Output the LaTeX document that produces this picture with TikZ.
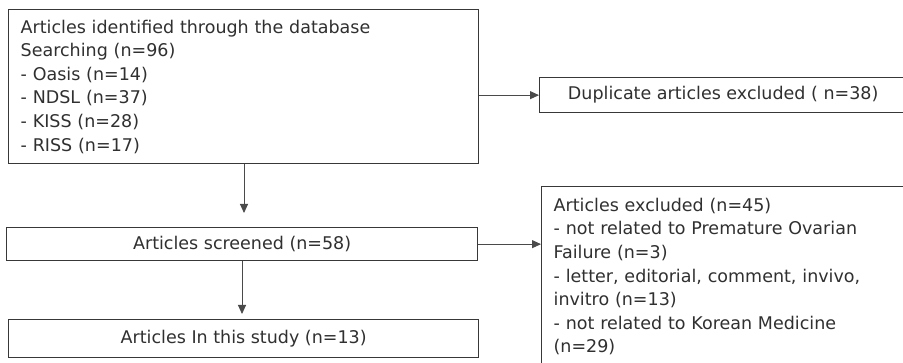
\documentclass[tikz,border=0pt]{standalone}
\usepackage{fontspec}
\setmainfont{DejaVu Sans}
\usetikzlibrary{arrows.meta}
\definecolor{boxc}{HTML}{383838}
\definecolor{txtc}{HTML}{303030}
\definecolor{arrc}{HTML}{4A4A4A}
\begin{document}
\begin{tikzpicture}[x=1pt,y=-1pt,
  box/.style={draw=boxc, line width=1.3pt, rectangle, inner sep=0pt, anchor=north west,
    text=txtc, font=\fontsize{17.5}{23.6}\selectfont},
  arr/.style={draw=arrc, line width=0.9pt, -{Triangle[length=9pt,width=8pt]}}]
\useasboundingbox (0,0) rectangle (903,363);
\fill[white] (0,0) rectangle (903,363);
\clip (0,0) rectangle (903,363);
\node[box, minimum width=470pt, minimum height=154pt, text width=446pt, align=left] (b1) at (8,9)
  {Articles identified through the database\\Searching (n=96)\\- Oasis (n=14)\\- NDSL (n=37)\\- KISS (n=28)\\- RISS (n=17)};
\node[box, minimum width=367pt, minimum height=35pt] (dup) at (539,77)
  {Duplicate articles excluded ( n=38)};
\node[box, minimum width=471pt, minimum height=33pt] (scr) at (6,227)
  {Articles screened (n=58)};
\node[box, minimum width=470pt, minimum height=38pt] (fin) at (8,319)
  {Articles In this study (n=13)};
\node[box, minimum width=366pt, minimum height=180pt, text width=342pt, align=left] (exc) at (541,186)
  {Articles excluded (n=45)\\- not related to Premature Ovarian\\Failure (n=3)\\- letter, editorial, comment, invivo,\\invitro (n=13)\\- not related to Korean Medicine\\(n=29)};
\coordinate (c1) at (244,0);
\coordinate (c2) at (242,0);
\draw[arr, shorten >=14pt] (b1.south -| c1) -- (scr.north -| c1);
\draw[arr] (dup.west -| b1.east) -- (dup.west);
\draw[arr] (scr.east) -- (scr.east -| exc.west);
\draw[arr, shorten >=5pt] (scr.south -| c2) -- (fin.north -| c2);
\end{tikzpicture}
\end{document}
